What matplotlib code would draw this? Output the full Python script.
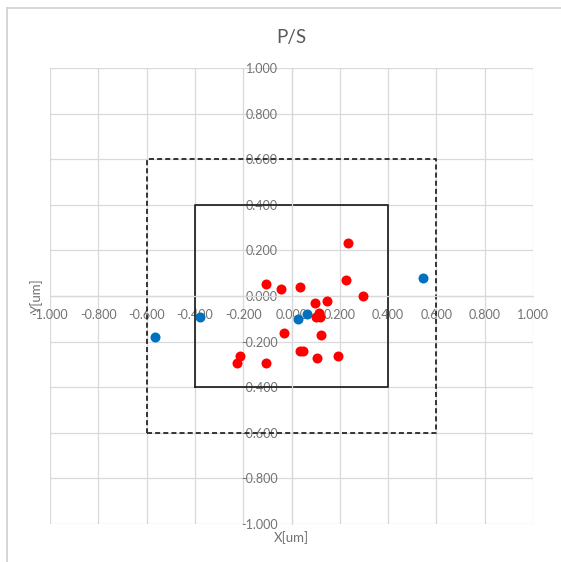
import matplotlib
matplotlib.use("Agg")
import matplotlib.pyplot as plt
from matplotlib.lines import Line2D

# Measured positions [um]
red_x = [0.234, -0.105, -0.043, 0.036, 0.225, 0.296, 0.097, 0.147, 0.113, 0.100,
         0.119, -0.033, 0.123, 0.036, 0.047, 0.107, 0.194, -0.212, -0.225, -0.105]
red_y = [0.233, 0.052, 0.031, 0.041, 0.071, 0.000, -0.030, -0.021, -0.074, -0.094,
         -0.091, -0.162, -0.172, -0.243, -0.241, -0.271, -0.262, -0.262, -0.294, -0.294]

blue_x = [0.544, -0.378, -0.566, 0.028, 0.065]
blue_y = [0.081, -0.091, -0.182, -0.103, -0.081]

# Tolerance boxes
inner_x = [-0.4, 0.4, 0.4, -0.4, -0.4]
inner_y = [-0.4, -0.4, 0.4, 0.4, -0.4]
outer_x = [-0.6, 0.6, 0.6, -0.6, -0.6]
outer_y = [-0.6, -0.6, 0.6, 0.6, -0.6]

ticks = [-1.0, -0.8, -0.6, -0.4, -0.2, 0.0, 0.2, 0.4, 0.6, 0.8, 1.0]

plt.rcParams["font.family"] = ["Lato", "DejaVu Sans"]

W, H = 561, 562
fig = plt.figure(figsize=(W / 100, H / 100), dpi=100)
fig.patch.set_facecolor("white")

# chart area border (only left / top edges visible in the crop)
fig.add_artist(Line2D([7 / W, 7 / W], [0, 1 - 8 / H], color="#d0d0d0", lw=1.2))
fig.add_artist(Line2D([7 / W, 1], [1 - 8 / H, 1 - 8 / H], color="#d0d0d0", lw=1.2))

left, right, top, bottom = 50, 533, 68, 524
ax = fig.add_axes([left / W, (H - bottom) / H, (right - left) / W, (bottom - top) / H])

grid_col = "#d9d9d9"
txt_col = "#727272"

ax.set_xlim(-1, 1)
ax.set_ylim(-1, 1)
ax.set_xticks(ticks)
ax.set_yticks(ticks)
ax.set_xticklabels([f"{t:.3f}" for t in ticks])
ax.set_yticklabels([f"{t:.3f}" for t in ticks])
ax.grid(True, color=grid_col, lw=0.9)
ax.set_axisbelow(True)

for s in ["top", "right"]:
    ax.spines[s].set_visible(False)
for s in ["left", "bottom"]:
    ax.spines[s].set_position("zero")
    ax.spines[s].set_color(grid_col)
    ax.spines[s].set_linewidth(0.9)

ax.tick_params(axis="both", length=0, labelsize=9, labelcolor=txt_col)
ax.tick_params(axis="x", pad=9.5)
ax.tick_params(axis="y", pad=10)

# tolerance boxes
ax.plot(outer_x, outer_y, color="#262626", lw=1.3, linestyle=(0, (2.8, 1.7)))
ax.plot(inner_x, inner_y, color="#262626", lw=1.3)

# measurement points
ax.scatter(blue_x, blue_y, s=52, color="#0070c0", zorder=3, linewidths=0)
ax.scatter(red_x, red_y, s=52, color="#ff0000", zorder=4, linewidths=0)

ax.set_title("P/S", fontsize=13.5, color="#595959", y=1.055, pad=0)
ax.set_xlabel("X[um]", fontsize=9.5, color=txt_col)
ax.xaxis.set_label_coords(0.5, -0.015)
ax.set_ylabel("Y[um]", fontsize=9.5, color=txt_col)
ax.yaxis.set_label_coords(-0.015, 0.5)

fig.savefig("out.png", dpi=100, facecolor="white")
